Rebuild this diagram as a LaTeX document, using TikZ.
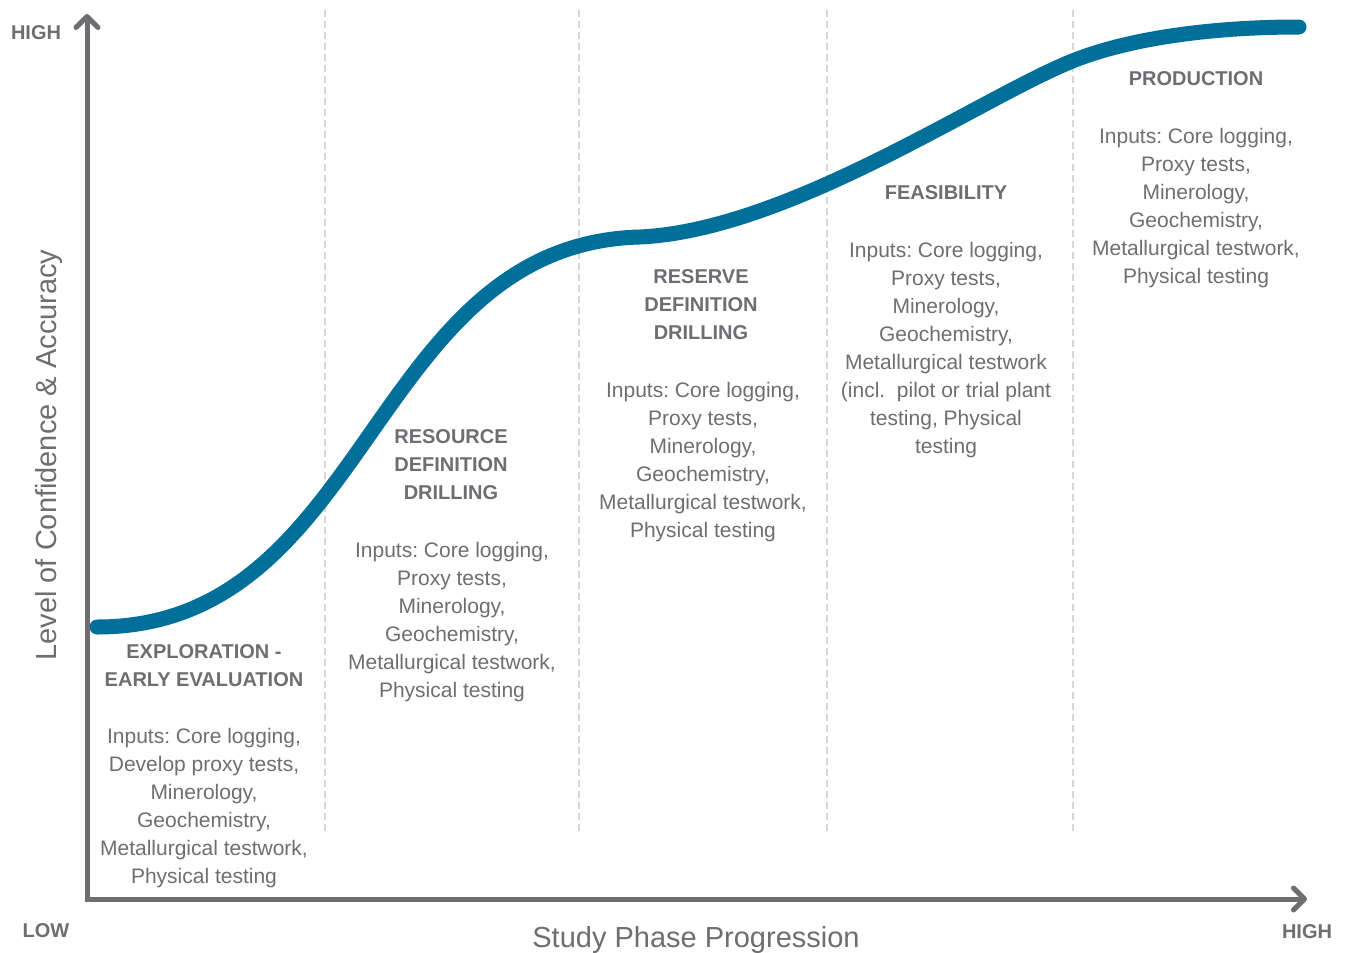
\documentclass[tikz,border=0pt]{standalone}
\usepackage{fontspec}
\setmainfont{Liberation Sans}
\usetikzlibrary{arrows.meta}
\definecolor{inkgray}{HTML}{6D6E71}
\definecolor{curveblue}{HTML}{00709A}
\definecolor{guidegray}{HTML}{D6D6D6}
\frenchspacing
\tikzset{
  phasetitle/.style={font=\bfseries\fontsize{20}{28}\selectfont, text=inkgray, align=center, anchor=north, inner sep=0pt},
  phasebody/.style={font=\fontsize{21}{28}\selectfont, text=inkgray, align=center, anchor=north, inner sep=0pt},
  endlabel/.style={font=\bfseries\fontsize{20}{24}\selectfont, text=inkgray, anchor=base, inner sep=0pt},
  axislabel/.style={font=\fontsize{29}{34}\selectfont, text=inkgray, anchor=base, inner sep=0pt},
  guide/.style={draw=guidegray, line width=1.8pt, dash pattern=on 7pt off 4pt},
  axisline/.style={draw=inkgray, line width=5pt, line join=miter,
    {Straight Barb[length=11pt, width=22pt, line cap=round, line join=round]}-{Straight Barb[length=11pt, width=22pt, line cap=round, line join=round]}},
  scurve/.style={draw=curveblue, line width=15pt, line cap=round}
}
\begin{document}
\begin{tikzpicture}[x=1pt, y=-1pt]
\useasboundingbox (0,0) rectangle (1347,953);

% phase separators
\foreach \gx in {325,579,827,1073}
  \draw[guide] (\gx,10) -- (\gx,833);

% confidence curve: S-shaped rise, plateau, second rise, long taper
\coordinate (cstart) at (97,627);
\coordinate (cmid) at (640,237);
\coordinate (cknee) at (1075,60);
\coordinate (cend) at (1299,27);
\draw[scurve] (cstart) .. controls (370,627) and (370,244) .. (cmid)
  .. controls (790,230) and (985,95) .. (cknee)
  .. controls (1135,36.6) and (1219,27) .. (cend);

% axes
\coordinate (ytop) at (87,14);
\coordinate (origin) at (87,899);
\coordinate (xend) at (1307,899);
\draw[axisline] (ytop) -- (origin) -- (xend);

% axis labels
\node[endlabel] (yhigh) at (36,39) {HIGH};
\node[endlabel] (xlow) at (46,937) {LOW};
\node[endlabel] (xhigh) at (1307,938) {HIGH};
\node[axislabel] (xname) at (696,947) {Study Phase Progression};
\node[axislabel, rotate=90] (yname) at (56,455) {Level of Confidence \& Accuracy};

% phases
\node[phasetitle] (t1) at (204,644) {EXPLORATION -\\EARLY EVALUATION};
\node[phasebody] (b1) at (204,728) {Inputs: Core logging,\\Develop proxy tests,\\Minerology,\\Geochemistry,\\Metallurgical testwork,\\Physical testing};

\node[phasetitle] (t2) at (451,429) {RESOURCE\\DEFINITION\\DRILLING};
\node[phasebody] (b2) at (452,542) {Inputs: Core logging,\\Proxy tests,\\Minerology,\\Geochemistry,\\Metallurgical testwork,\\Physical testing};

\node[phasetitle] (t3) at (701,269) {RESERVE\\DEFINITION\\DRILLING};
\node[phasebody] (b3) at (703,382) {Inputs: Core logging,\\Proxy tests,\\Minerology,\\Geochemistry,\\Metallurgical testwork,\\Physical testing};

\node[phasetitle] (t4) at (946,185) {FEASIBILITY};
\node[phasebody] (b4) at (946,242) {Inputs: Core logging,\\Proxy tests,\\Minerology,\\Geochemistry,\\Metallurgical testwork\\(incl.\ \ pilot or trial plant\\testing, Physical\\testing};

\node[phasetitle] (t5) at (1196,71) {PRODUCTION};
\node[phasebody] (b5) at (1196,128) {Inputs: Core logging,\\Proxy tests,\\Minerology,\\Geochemistry,\\Metallurgical testwork,\\Physical testing};
\end{tikzpicture}
\end{document}
